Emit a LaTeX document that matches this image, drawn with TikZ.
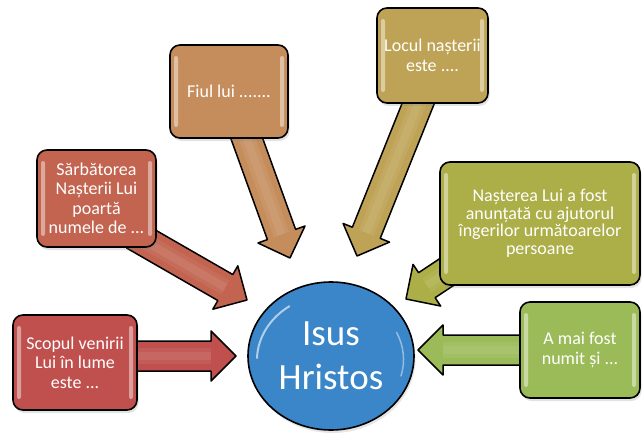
\documentclass[tikz,border=0pt]{standalone}
\usepackage{fontspec}
\setmainfont{Carlito}
\usetikzlibrary{calc,shadows,backgrounds,shapes.geometric}
\definecolor{cRed}{HTML}{C0504D}
\definecolor{cTerra}{HTML}{C2644F}
\definecolor{cTan}{HTML}{C68D5C}
\definecolor{cKhaki}{HTML}{BEA356}
\definecolor{cOlive}{HTML}{ACAE47}
\definecolor{cGreen}{HTML}{9BBB59}
\definecolor{cBlue}{HTML}{3A86C8}
\newcommand\blockarrow[3]{%
  \coordinate (ba-c) at ($(#2)!25pt!(#1)$);
  \filldraw[arrowline, fill=#3]
    ($(#1)!15pt!-90:(#2)$) -- ($(ba-c)!15pt!-90:(#2)$) -- ($(ba-c)!25pt!-90:(#2)$)
    -- (#2) -- ($(ba-c)!25pt!90:(#2)$) -- ($(ba-c)!15pt!90:(#2)$) -- ($(#1)!15pt!90:(#2)$) -- cycle;
  \draw[#3!55!white, line width=16pt, opacity=0.14] (#1) -- (ba-c);
  \draw[#3!55!white, line width=8pt, opacity=0.18] (#1) -- (ba-c);
}
\begin{document}
\begin{tikzpicture}[x=1pt,y=-1pt,
  box/.style={draw=black, line width=1.6pt, rounded corners=10pt, text=white,
    align=center, inner sep=2pt, font=\fontsize{18}{19.5}\selectfont,
    drop shadow={opacity=0.22, shadow xshift=1.5pt, shadow yshift=-3pt},
    path picture={
      \fill[white, opacity=0.45, rounded corners=2pt]
        ([xshift=4pt, yshift=-11pt]path picture bounding box.north west) rectangle
        ([xshift=8pt, yshift=11pt]path picture bounding box.south west);
      \fill[white, opacity=0.45, rounded corners=2pt]
        ([xshift=-8pt, yshift=-11pt]path picture bounding box.north east) rectangle
        ([xshift=-4pt, yshift=11pt]path picture bounding box.south east);
    }},
  arrowline/.style={draw=black, line width=1.5pt, line join=round},
  hub/.style={ellipse, draw=black, line width=1.6pt, fill=cBlue, text=white,
    align=center, minimum width=166pt, minimum height=148pt,
    font=\fontsize{37}{44}\selectfont,
    drop shadow={opacity=0.2, shadow xshift=1.5pt, shadow yshift=-3pt}}
]
\useasboundingbox (0,0) rectangle (643,436);

% boxes
\node[box, fill=cTerra, minimum width=119pt, minimum height=97pt] (sarb) at (96.5,198.5)
  {Sărbătorea\\Nașterii Lui\\poartă\\numele de ...};
\node[box, fill=cTan, minimum width=118pt, minimum height=93pt] (fiul) at (229,91.5)
  {Fiul lui .......};
\node[box, fill=cKhaki, minimum width=111pt, minimum height=95pt] (locul) at (432.5,55.5)
  {Locul nașterii\\este ....};
\node[box, fill=cOlive, minimum width=200pt, minimum height=123pt,
  font=\fontsize{18}{17.5}\selectfont] (nast) at (540,223.5)
  {Nașterea Lui a fost\\anunțată cu ajutorul\\îngerilor următoarelor\\persoane};
\node[box, fill=cRed, minimum width=124pt, minimum height=95pt] (scop) at (75,362.5)
  {Scopul venirii\\Lui în lume\\este ...};
\node[box, fill=cGreen, minimum width=120pt, minimum height=96pt] (amai) at (580,350)
  {A mai fost\\numit și ...};

% hub
\node[hub] (isus) at (331,356) {Isus\\Hristos};
\draw[white, opacity=0.6, line width=2pt, line cap=round]
  ($(isus.center)+(-74pt,-2pt)$) arc[start angle=178, end angle=125, x radius=76pt, y radius=66pt];
\draw[white, opacity=0.45, line width=1.5pt, line cap=round]
  ($(isus.center)+(70pt,-20pt)$) arc[start angle=-15, end angle=25, x radius=74pt, y radius=64pt];

% arrow end points
\coordinate (scop-s) at (100,356);  \coordinate (scop-t) at (236,356);
\coordinate (sarb-s) at (134,235);  \coordinate (sarb-t) at (247,300);
\coordinate (fiul-s) at (239,117);  \coordinate (fiul-t) at (290,258);
\coordinate (locul-s) at (424,89);  \coordinate (locul-t) at (357,256);
\coordinate (nast-s) at (489,244);  \coordinate (nast-t) at (406,299);
\coordinate (amai-s) at (540,350);  \coordinate (amai-t) at (418,350);

\begin{pgfonlayer}{background}
  \blockarrow{scop-s}{scop-t}{cRed}
  \blockarrow{sarb-s}{sarb-t}{cTerra}
  \blockarrow{fiul-s}{fiul-t}{cTan}
  \blockarrow{locul-s}{locul-t}{cKhaki}
  \blockarrow{nast-s}{nast-t}{cOlive}
  \blockarrow{amai-s}{amai-t}{cGreen}
\end{pgfonlayer}
\end{tikzpicture}
\end{document}
